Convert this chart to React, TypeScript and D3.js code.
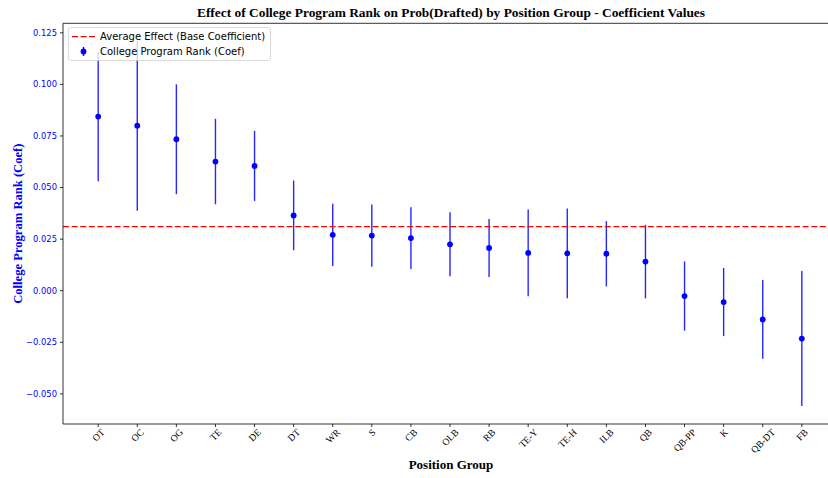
import React, { useEffect, useRef } from "react";
import * as d3 from "d3";

// Position groups and their coefficient estimates with error half-widths
const positions = ["OT", "OC", "OG", "TE", "DE", "DT", "WR", "S", "CB", "OLB", "RB", "TE-Y", "TE-H", "ILB", "QB", "QB-PP", "K", "QB-DT", "FB"];
const coefs = [0.0844, 0.0800, 0.0734, 0.0626, 0.0605, 0.0365, 0.0271, 0.0267, 0.0255, 0.0225, 0.0207, 0.0183, 0.0181, 0.0179, 0.0141, -0.0026, -0.0055, -0.0139, -0.0232];
const errors = [0.0314, 0.0412, 0.0266, 0.0207, 0.0170, 0.0169, 0.0151, 0.0151, 0.0150, 0.0155, 0.0140, 0.0210, 0.0218, 0.0158, 0.0178, 0.0168, 0.0165, 0.0191, 0.0327];
const baseCoef = 0.0310;
const yTicks = [-0.05, -0.025, 0, 0.025, 0.05, 0.075, 0.1, 0.125];

const W = 828;
const H = 478;
const left = 63;
const right = 837;
const top = 23.3;
const bottom = 424;
const dash = "6,2.6";

export default function App() {
  const ref = useRef<SVGSVGElement | null>(null);

  useEffect(() => {
    const svg = d3.select(ref.current);
    svg.selectAll("*").remove();

    const x = d3.scaleLinear().domain([-0.9, positions.length - 1 + 0.9]).range([left, right]);
    const y = d3.scaleLinear().domain([-0.0646, 0.1296]).range([bottom, top]);

    const g = svg.append("g");

    // error bars
    g.selectAll("line.err")
      .data(positions)
      .join("line")
      .attr("x1", (_, i) => x(i))
      .attr("x2", (_, i) => x(i))
      .attr("y1", (_, i) => y(coefs[i] - errors[i]))
      .attr("y2", (_, i) => y(coefs[i] + errors[i]))
      .attr("stroke", "#0000ff")
      .attr("stroke-opacity", 0.85)
      .attr("stroke-width", 1.4);

    g.selectAll("circle.pt")
      .data(positions)
      .join("circle")
      .attr("cx", (_, i) => x(i))
      .attr("cy", (_, i) => y(coefs[i]))
      .attr("r", 2.9)
      .attr("fill", "#0000ff");

    // base coefficient reference line
    g.append("line")
      .attr("x1", left)
      .attr("x2", right)
      .attr("y1", y(baseCoef))
      .attr("y2", y(baseCoef))
      .attr("stroke", "#ff0000")
      .attr("stroke-width", 1.25)
      .attr("stroke-dasharray", dash);

    // spines
    g.append("line").attr("x1", left).attr("x2", left).attr("y1", top).attr("y2", bottom).attr("stroke", "#000").attr("stroke-width", 0.8);
    g.append("line").attr("x1", left).attr("x2", right).attr("y1", bottom).attr("y2", bottom).attr("stroke", "#000").attr("stroke-width", 0.8);
    g.append("line").attr("x1", left).attr("x2", right).attr("y1", top).attr("y2", top).attr("stroke", "#000").attr("stroke-width", 0.8);

    // y ticks
    yTicks.forEach((t) => {
      const yy = y(t);
      g.append("line").attr("x1", left - 3).attr("x2", left).attr("y1", yy).attr("y2", yy).attr("stroke", "#000").attr("stroke-width", 0.8);
      g.append("text")
        .attr("x", left - 6)
        .attr("y", yy)
        .attr("dy", "0.35em")
        .attr("text-anchor", "end")
        .attr("font-family", "DejaVu Sans")
        .attr("font-size", 8.4)
        .attr("fill", "#0000ff")
        .text(d3.format(".3f")(t).replace("-", "\u2212"));
    });

    // x ticks with rotated labels
    positions.forEach((p, i) => {
      const xx = x(i);
      g.append("line").attr("x1", xx).attr("x2", xx).attr("y1", bottom).attr("y2", bottom + 3).attr("stroke", "#000").attr("stroke-width", 0.8);
      const fs = 9.6;
      const t = g.append("text")
        .attr("text-anchor", "middle")
        .attr("dominant-baseline", "central")
        .attr("font-family", "Liberation Serif")
        .attr("font-size", fs)
        .attr("fill", "#000")
        .text(p);
      const w = (t.node() as SVGTextElement).getComputedTextLength();
      const h = fs * 0.72;
      const cy = bottom + 4 + (w + h) / 2.83;
      t.attr("transform", `translate(${xx},${cy}) rotate(-45)`);
    });

    // title and axis labels
    svg.append("text")
      .attr("x", 451)
      .attr("y", 17)
      .attr("text-anchor", "middle")
      .attr("font-family", "Liberation Serif")
      .attr("font-weight", "bold")
      .attr("font-size", 13.4)
      .text("Effect of College Program Rank on Prob(Drafted) by Position Group - Coefficient Values");

    svg.append("text")
      .attr("x", 451)
      .attr("y", 469)
      .attr("text-anchor", "middle")
      .attr("font-family", "Liberation Serif")
      .attr("font-weight", "bold")
      .attr("font-size", 13)
      .text("Position Group");

    svg.append("text")
      .attr("transform", `translate(22,${(top + bottom) / 2}) rotate(-90)`)
      .attr("text-anchor", "middle")
      .attr("font-family", "Liberation Serif")
      .attr("font-weight", "bold")
      .attr("font-size", 12.6)
      .attr("fill", "#0000ff")
      .text("College Program Rank (Coef)");

    // legend
    const lg = svg.append("g");
    lg.append("rect")
      .attr("x", 68.5)
      .attr("y", 27.5)
      .attr("width", 202)
      .attr("height", 33)
      .attr("rx", 2.5)
      .attr("fill", "rgba(255,255,255,0.8)")
      .attr("stroke", "#d0d0d0")
      .attr("stroke-width", 0.8);
    lg.append("line")
      .attr("x1", 72).attr("x2", 95).attr("y1", 36.5).attr("y2", 36.5)
      .attr("stroke", "#ff0000").attr("stroke-width", 1.25).attr("stroke-dasharray", dash);
    lg.append("text")
      .attr("x", 100).attr("y", 36.5).attr("dy", "0.35em")
      .attr("font-family", "DejaVu Sans").attr("font-size", 10)
      .text("Average Effect (Base Coefficient)");
    lg.append("line")
      .attr("x1", 83.5).attr("x2", 83.5).attr("y1", 47).attr("y2", 56)
      .attr("stroke", "#0000ff").attr("stroke-width", 1.4);
    lg.append("circle").attr("cx", 83.5).attr("cy", 51.5).attr("r", 2.9).attr("fill", "#0000ff");
    lg.append("text")
      .attr("x", 100).attr("y", 51.5).attr("dy", "0.35em")
      .attr("font-family", "DejaVu Sans").attr("font-size", 10)
      .text("College Program Rank (Coef)");
  }, []);

  return (
    <svg
      ref={ref}
      width={W}
      height={H}
      style={{ position: "absolute", left: 0, top: 0, background: "#fff" }}
    />
  );
}
